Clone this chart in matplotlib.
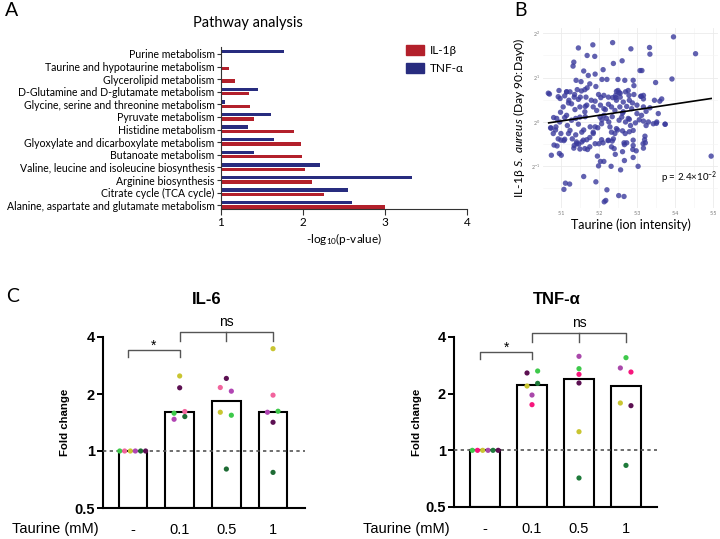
import numpy as np
import matplotlib
matplotlib.use('Agg')
import matplotlib.pyplot as plt
from matplotlib.patches import Patch

plt.rcParams['font.family'] = ['Lato', 'DejaVu Sans']
plt.rcParams['mathtext.fontset'] = 'custom'
plt.rcParams['mathtext.rm'] = 'Lato'
plt.rcParams['mathtext.it'] = 'Lato:italic'

# ---------- data: panel A (pathway analysis) ----------
pathways = [
    'Purine metabolism',
    'Taurine and hypotaurine metabolism',
    'Glycerolipid metabolism',
    'D-Glutamine and D-glutamate metabolism',
    'Glycine, serine and threonine metabolism',
    'Pyruvate metabolism',
    'Histidine metabolism',
    'Glyoxylate and dicarboxylate metabolism',
    'Butanoate metabolism',
    'Valine, leucine and isoleucine biosynthesis',
    'Arginine biosynthesis',
    'Citrate cycle (TCA cycle)',
    'Alanine, aspartate and glutamate metabolism',
]
il1b_logp = [np.nan, 1.10, 1.17, 1.336, 1.348, 1.40, 1.887, 1.976, 1.992, 2.02, 2.105, 2.259, 3.004]
tnf_logp = [1.765, np.nan, np.nan, 1.457, 1.053, 1.611, 1.332, 1.648, 1.40, 2.202, 3.324, 2.547, 2.60]

# ---------- data: panel B (scatter, y in log2 units) ----------
taurine = [
    5.396, 5.454, 5.236, 5.184, 5.146, 5.284, 5.333, 5.334, 5.169, 5.189,
    5.261, 5.238, 5.134, 5.132, 5.160, 5.211, 5.190, 5.172, 5.308, 5.313,
    5.392, 5.349, 5.140, 5.153, 5.208, 5.221, 5.250, 5.268, 5.290, 5.292,
    5.176, 5.192, 5.070, 5.095, 5.115, 5.124, 5.143, 5.154, 5.163, 5.169,
    5.246, 5.250, 5.256, 5.270, 5.277, 5.279, 5.292, 5.311, 5.317, 5.135,
    5.151, 5.166, 5.098, 5.110, 5.121, 5.199, 5.213, 5.205, 5.225, 5.236,
    5.244, 5.256, 5.346, 5.360, 5.365, 5.317,
    5.074, 5.080, 5.087, 5.097, 5.100, 5.090, 5.110, 5.120, 5.117, 5.124,
    5.128, 5.139, 5.146, 5.150, 5.155, 5.141, 5.147, 5.135, 5.159, 5.168,
    5.176, 5.185, 5.190, 5.197, 5.207, 5.203, 5.213, 5.220, 5.226, 5.229,
    5.233, 5.242, 5.246, 5.253, 5.260, 5.264, 5.270, 5.277, 5.283, 5.290,
    5.296, 5.300, 5.306, 5.312, 5.317, 5.324, 5.330, 5.343, 5.352, 5.356,
    5.374, 5.194, 5.185, 5.168, 5.163, 5.150, 5.137, 5.115, 5.106, 5.089,
    5.242, 5.233, 5.225, 5.255, 5.273, 5.286, 5.300, 5.317, 5.334, 5.213,
    5.204, 5.246, 5.264, 5.280, 5.180, 5.128, 5.163, 5.176, 5.190, 5.225,
    5.238, 5.233, 5.240,
    5.115, 5.136, 5.099, 5.110, 5.081, 5.073, 5.086, 5.100, 5.093, 5.108,
    5.082, 5.130, 5.139, 5.142, 5.155, 5.134, 5.150, 5.170, 5.160, 5.177,
    5.185, 5.207, 5.211, 5.200, 5.224, 5.235, 5.249, 5.262, 5.269, 5.280,
    5.273, 5.267, 5.290, 5.298, 5.320, 5.316, 5.351, 5.374, 5.067, 5.093,
    5.120, 5.146, 5.164, 5.190, 5.217, 5.244, 5.253, 5.262, 5.288, 5.310,
    5.324, 5.164, 5.208, 5.235, 5.280,
    5.075, 5.096, 5.101, 5.196, 5.204, 5.213, 5.199, 5.243, 5.232, 5.257,
    5.267, 5.290, 5.303, 5.160, 5.192, 5.112, 5.123, 5.108, 5.221, 5.218,
    5.214, 5.252, 5.266, 5.495, 5.262, 5.266, 5.290, 5.321, 5.317, 5.322,
    5.289,
]
il1b_log2_ratio = [
    1.92, 1.54, 1.79, 1.74, 1.67, 1.65, 1.68, 1.53, 1.50, 1.48,
    1.38, 1.32, 1.35, 1.26, 1.15, 1.18, 1.08, 1.05, 1.16, 1.16,
    0.97, 0.89, 0.94, 0.91, 0.96, 0.96, 0.96, 0.94, 0.94, 0.82,
    0.86, 0.80, 0.63, 0.71, 0.68, 0.68, 0.73, 0.70, 0.73, 0.77,
    0.69, 0.71, 0.65, 0.68, 0.71, 0.60, 0.62, 0.58, 0.60, 0.56,
    0.56, 0.56, 0.53, 0.59, 0.49, 0.62, 0.60, 0.55, 0.56, 0.55,
    0.60, 0.56, 0.49, 0.47, 0.52, 0.52,
    -0.14, -0.26, -0.11, 0.00, -0.41, -0.54, -0.39, -0.26, -0.08, -0.19,
    0.04, 0.08, -0.05, 0.11, -0.23, -0.45, -0.50, -0.53, -0.41, -0.40,
    -0.35, -0.23, -0.11, -0.13, -0.04, 0.11, 0.15, 0.08, 0.00, -0.11,
    -0.23, -0.26, -0.15, 0.04, 0.11, 0.23, 0.00, 0.08, -0.08, -0.19,
    -0.02, 0.19, 0.05, 0.15, 0.02, -0.08, 0.00, -0.04, 0.00, 0.19,
    -0.05, 0.26, 0.34, 0.38, 0.23, 0.34, 0.28, 0.15, 0.34, 0.08,
    0.26, 0.34, 0.40, 0.34, 0.35, 0.30, 0.38, 0.34, 0.32, 0.30,
    0.38, 0.49, 0.45, 0.49, 0.49, 0.41, -0.60, -0.56, -0.49, -0.41,
    -0.38, -0.56, -0.60,
    0.68, 0.62, 0.22, 0.10, 0.10, -0.13, -0.18, -0.26, -0.38, -0.42,
    -0.52, -0.38, -0.29, -0.49, -0.45, -0.59, -0.61, -0.62, -0.18, -0.11,
    -0.26, -0.40, -0.47, -0.49, -0.42, -0.43, -0.18, -0.20, -0.26, -0.22,
    -0.47, -0.51, -0.53, -0.65, -0.40, -0.49, -0.03, -0.05, 0.65, 0.57,
    0.43, 0.51, 0.35, 0.47, 0.28, 0.55, 0.66, 0.20, 0.43, 0.58,
    0.24, 0.12, 0.05, 0.12, 0.06,
    -0.75, -0.71, -0.75, -0.77, -0.89, -0.89, -0.99, -0.73, -1.00, -1.08,
    -0.87, -0.80, -1.00, -1.23, -1.35, -1.38, -1.40, -1.52, -1.53, -1.77,
    -1.80, -1.66, -1.68, -0.77, -0.67, -0.47, -0.41, -0.32, -0.59, -0.47,
    -0.62,
]
fit_x = [5.068, 5.495]
fit_y = [-0.02, 0.53]

# ---------- data: panel C (fold change per donor) ----------
doses = ['-', '0.1', '0.5', '1']
# donor order: green, pink, yellow, magenta, dark green, dark purple
il6_fold = [
    [1, 1, 1, 1, 1, 1],
    [1.583, 1.616, 2.49, 1.471, 1.52, 2.157],
    [1.545, 2.164, 1.602, 2.07, 0.803, 2.417],
    [1.622, 1.972, 3.47, 1.602, 0.771, 1.418],
]
tnf_fold = [
    [1, 1, 1, 1, 1, 1],
    [2.639, 1.748, 2.196, 1.967, 2.269, 2.576],
    [2.715, 2.533, 1.256, 3.158, 0.713, 2.279],
    [3.106, 2.606, 1.784, 2.738, 0.832, 1.727],
]

W, H = 720, 539
fig = plt.figure(figsize=(7.2, 5.39), dpi=100)


def px_axes(l, t, r, b):
    return fig.add_axes([l / W, 1 - b / H, (r - l) / W, (b - t) / H])


# ================= Panel A =================
red, blue = '#b3202b', '#282c7f'
axA = px_axes(221, 47, 467, 209)
ypos = np.arange(len(pathways))[::-1]
il1b_arr = np.array(il1b_logp)
tnf_arr = np.array(tnf_logp)
m1 = ~np.isnan(il1b_arr)
m2 = ~np.isnan(tnf_arr)
axA.barh(ypos[m2] + 0.2, tnf_arr[m2] - 1, left=1, height=0.27, color=blue)
axA.barh(ypos[m1] - 0.15, il1b_arr[m1] - 1, left=1, height=0.27, color=red)
axA.set_xlim(1, 4)
axA.set_ylim(-0.3, 12.55)
axA.set_yticks(ypos)
axA.set_yticklabels(pathways)
axA.set_xticks([1, 2, 3, 4])
axA.tick_params(axis='y', length=3, width=0.8, labelsize=7.6, pad=1.5, color='#333')
axA.tick_params(axis='x', length=4, width=0.8, labelsize=8.5, pad=2, color='#333')
for s in ['top', 'right']:
    axA.spines[s].set_visible(False)
for s in ['left', 'bottom']:
    axA.spines[s].set_linewidth(0.8)
    axA.spines[s].set_color('#333')
axA.set_xlabel('-log$_{10}$(p-value)', fontsize=8.5, labelpad=2)
fig.text(248 / W, 1 - 23 / H, 'Pathway analysis', ha='center', va='center', fontsize=10.5)
fig.legend(handles=[Patch(color=red, label='IL-1β'), Patch(color=blue, label='TNF-α')],
           loc='upper left', bbox_to_anchor=(406 / W, 1 - 45 / H), frameon=False,
           fontsize=8.5, handlelength=1.55, handleheight=0.85, labelspacing=0.6,
           handletextpad=0.45, borderaxespad=0, borderpad=0)

# ================= Panel B =================
axB = px_axes(543, 28, 718, 208)
axB.scatter(taurine, il1b_log2_ratio, s=15, color='#3a3a9c', alpha=0.8,
            edgecolors='none', zorder=3)
axB.plot(fit_x, fit_y, color='black', lw=1.2, zorder=4)
axB.set_xlim(5.053, 5.513)
axB.set_ylim(-1.94, 2.12)
axB.set_xticks([5.1, 5.2, 5.3, 5.4, 5.5])
axB.set_xticklabels(['5.1', '5.2', '5.3', '5.4', '5.5'])
axB.set_xticks([5.15, 5.25, 5.35, 5.45], minor=True)
axB.set_yticks([-1, 0, 1, 2])
axB.set_yticklabels(['$2^{-1}$', '$2^{0}$', '$2^{1}$', '$2^{2}$'])
axB.set_yticks([-1.5, -0.5, 0.5, 1.5], minor=True)
axB.grid(True, which='major', color='#ebebeb', lw=0.6, zorder=0)
axB.grid(True, which='minor', color='#f4f4f4', lw=0.4, zorder=0)
axB.tick_params(which='both', length=0, labelsize=3.8, labelcolor='#7a7a7a', pad=2)
for s in axB.spines.values():
    s.set_visible(False)
axB.set_xlabel('Taurine (ion intensity)', fontsize=9, va='center')
axB.xaxis.set_label_coords(0.5, -0.095)
axB.set_ylabel(r'IL-1β $\mathit{S.\ aureus}$ (Day 90:Day0)', fontsize=8.7)
axB.yaxis.set_label_coords(-0.09, 0.5)
axB.text(5.364, -1.26, 'p = 2.4×10$^{-2}$', fontsize=7, va='center', zorder=5)

# ================= Panel C =================
cfont = 'Liberation Sans'
il6_colors = ['#3ec94b', '#f2649d', '#c9c531', '#b145b3', '#1e6b34', '#5c1052']
tnf_colors = ['#3ec94b', '#f7167c', '#c9c531', '#a948aa', '#1e7a3a', '#5c1052']
il6_offsets = [
    [-0.285, -0.18, -0.057, 0.05, 0.164, 0.27],
    [-0.12, 0.11, 0.0, -0.12, 0.11, 0.0],
    [0.107, -0.13, -0.13, 0.107, 0.0, 0.0],
    [0.107, 0.0, 0.0, -0.12, 0.0, 0.0],
]
tnf_offsets = [
    [-0.27, -0.16, -0.05, 0.064, 0.17, 0.28],
    [0.12, 0.0, -0.106, 0.0, 0.12, -0.106],
    [0.0, 0.0, 0.0, 0.0, 0.0, 0.0],
    [0.0, 0.106, -0.12, -0.12, 0.0, 0.106],
]


def bracket(ax, xs, y, tip, label, dy):
    ax.plot([xs[0], xs[0], xs[-1], xs[-1]], [tip, y, y, tip], color='#555555',
            lw=1.0, clip_on=False, zorder=5)
    for xm in xs[1:-1]:
        ax.plot([xm, xm], [y, tip], color='#555555', lw=1.0, clip_on=False, zorder=5)
    ax.annotate(label, ((xs[0] + xs[-1]) / 2, y), xytext=(0, dy), textcoords='offset points',
                ha='center', va='center', fontsize=10, family=cfont, annotation_clip=False)


def cytokine_panel(box, xlim, fold, colors, offsets, title, title_x, label_x,
                   star_y, star_tip, ns_y, ns_tip):
    ax = px_axes(*box)
    x = np.arange(len(doses))
    medians = [np.median(g) for g in fold]
    ax.set_yscale('log', base=2)
    ax.bar(x, np.array(medians) - 0.5, bottom=0.5, width=0.62, facecolor='white',
           edgecolor='black', lw=1.5, zorder=2)
    ax.axhline(1, ls=(0, (2, 2)), color='#555555', lw=1.2, zorder=3)
    for i, g in enumerate(fold):
        ax.scatter(x[i] + np.array(offsets[i]), g, s=14, c=colors, zorder=4,
                   edgecolors='none')
    ax.set_xlim(*xlim)
    ax.set_ylim(0.5, 4)
    ax.set_yticks([0.5, 1, 2, 4])
    ax.set_yticks([], minor=True)
    ax.set_yticklabels(['0.5', '1', '2', '4'], fontsize=10.5, fontweight='bold', family=cfont)
    ax.set_xticks(x)
    ax.set_xticklabels(doses, fontsize=10.5, family=cfont)
    ax.tick_params(axis='x', length=0, pad=11)
    ax.tick_params(axis='y', length=4, width=1.4, pad=2)
    for s in ['top', 'right']:
        ax.spines[s].set_visible(False)
    for s in ['left', 'bottom']:
        ax.spines[s].set_linewidth(1.5)
    ax.set_ylabel('Fold change', fontsize=8.2, fontweight='bold', family=cfont)
    ax.yaxis.set_label_coords(label_x, 0.5)
    bracket(ax, [-0.1, 1], star_y, star_tip, '*', 3)
    bracket(ax, [1, 2, 3], ns_y, ns_tip, 'ns', 7)
    fig.text(title_x / W, 1 - 300 / H, title, ha='center', va='center', fontsize=12,
             fontweight='bold', family=cfont)
    fig.text((box[0] - 91) / W, 1 - 529 / H, 'Taurine (mM)', ha='left', va='center',
             fontsize=10.5, family=cfont)
    return ax


cytokine_panel((103, 337, 305, 508), (-0.643, 3.685), il6_fold, il6_colors, il6_offsets,
               'IL-6', 207, -0.163, 3.41, 3.14, 4.27, 3.82)
cytokine_panel((454, 337, 657, 507), (-0.66, 3.66), tnf_fold, tnf_colors, tnf_offsets,
               'TNF-α', 557, -0.158, 3.33, 3.04, 4.22, 3.76)

# panel letters
fig.text(12 / W, 1 - 10 / H, 'A', ha='center', va='center', fontsize=14)
fig.text(521 / W, 1 - 10 / H, 'B', ha='center', va='center', fontsize=14)
fig.text(13 / W, 1 - 297 / H, 'C', ha='center', va='center', fontsize=14)

fig.savefig('out.png', dpi=100)
